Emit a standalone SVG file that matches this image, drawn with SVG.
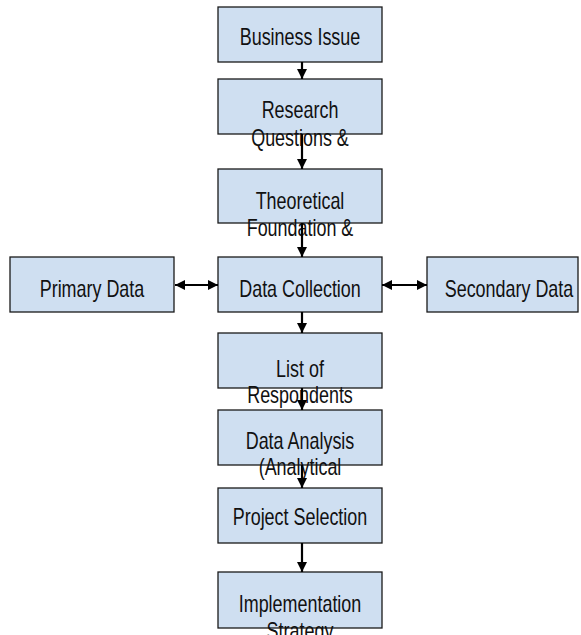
<svg xmlns="http://www.w3.org/2000/svg" width="581" height="635" viewBox="0 0 581 635">
  <style>
    .box { fill: #cfdff1; stroke: #1a1a1a; stroke-width: 1.3; }
    .lbl { font-family: "Liberation Sans", Arial, sans-serif; font-size: 23px; fill: #111; text-anchor: middle; }
    .conn { stroke: #000; stroke-width: 2.2; fill: none; }
  </style>
  <defs>
    <marker id="head" markerUnits="userSpaceOnUse" markerWidth="12" markerHeight="12" refX="10" refY="5" orient="auto-start-reverse">
      <path d="M0,0 L10,5 L0,10 Z" fill="#000"/>
    </marker>
  </defs>
  <rect width="581" height="635" fill="#fff"/>

  <g id="business-issue">
    <rect class="box" x="218" y="7" width="164" height="55"/>
    <text class="lbl" transform="translate(300,45) scale(0.78,1)">Business Issue</text>
  </g>
  <g id="research-questions">
    <rect class="box" x="218" y="79" width="164" height="55"/>
    <text class="lbl" transform="translate(300,118) scale(0.78,1)">Research</text>
    <text class="lbl" transform="translate(300,146) scale(0.78,1)">Questions &amp;</text>
  </g>
  <g id="theoretical-foundation">
    <rect class="box" x="218" y="169" width="164" height="54"/>
    <text class="lbl" transform="translate(300,209) scale(0.78,1)">Theoretical</text>
    <text class="lbl" transform="translate(300,236) scale(0.78,1)">Foundation &amp;</text>
  </g>
  <g id="data-collection">
    <rect class="box" x="218" y="257" width="164" height="55"/>
    <text class="lbl" transform="translate(300,297) scale(0.78,1)">Data Collection</text>
  </g>
  <g id="primary-data">
    <rect class="box" x="10" y="257" width="164" height="55"/>
    <text class="lbl" transform="translate(92,297) scale(0.78,1)">Primary Data</text>
  </g>
  <g id="secondary-data">
    <rect class="box" x="427" y="257" width="151" height="55"/>
    <text class="lbl" transform="translate(509,297) scale(0.78,1)">Secondary Data</text>
  </g>
  <g id="list-of-respondents">
    <rect class="box" x="218" y="333" width="164" height="55"/>
    <text class="lbl" transform="translate(300,377) scale(0.78,1)">List of</text>
    <text class="lbl" transform="translate(300,403) scale(0.78,1)">Respondents</text>
  </g>
  <g id="data-analysis">
    <rect class="box" x="218" y="410" width="164" height="55"/>
    <text class="lbl" transform="translate(300,449) scale(0.78,1)">Data Analysis</text>
    <text class="lbl" transform="translate(300,475) scale(0.78,1)">(Analytical</text>
  </g>
  <g id="project-selection">
    <rect class="box" x="218" y="488" width="164" height="55"/>
    <text class="lbl" transform="translate(300,525) scale(0.78,1)">Project Selection</text>
  </g>
  <g id="implementation-strategy">
    <rect class="box" x="218" y="572" width="164" height="56"/>
    <text class="lbl" transform="translate(300,612) scale(0.78,1)">Implementation</text>
    <text class="lbl" transform="translate(300,639) scale(0.78,1)">Strategy</text>
  </g>

  <g id="connectors">
    <line class="conn" x1="302" y1="62" x2="302" y2="79" marker-end="url(#head)"/>
    <line class="conn" x1="302" y1="134" x2="302" y2="169" marker-end="url(#head)"/>
    <line class="conn" x1="302" y1="223" x2="302" y2="257" marker-end="url(#head)"/>
    <line class="conn" x1="302" y1="312" x2="302" y2="333" marker-end="url(#head)"/>
    <line class="conn" x1="302" y1="388" x2="302" y2="410" marker-end="url(#head)"/>
    <line class="conn" x1="302" y1="465" x2="302" y2="488" marker-end="url(#head)"/>
    <line class="conn" x1="302" y1="543" x2="302" y2="572" marker-end="url(#head)"/>
    <line class="conn" x1="175" y1="285" x2="218" y2="285" marker-start="url(#head)" marker-end="url(#head)"/>
    <line class="conn" x1="382" y1="285" x2="427" y2="285" marker-start="url(#head)" marker-end="url(#head)"/>
  </g>
</svg>
